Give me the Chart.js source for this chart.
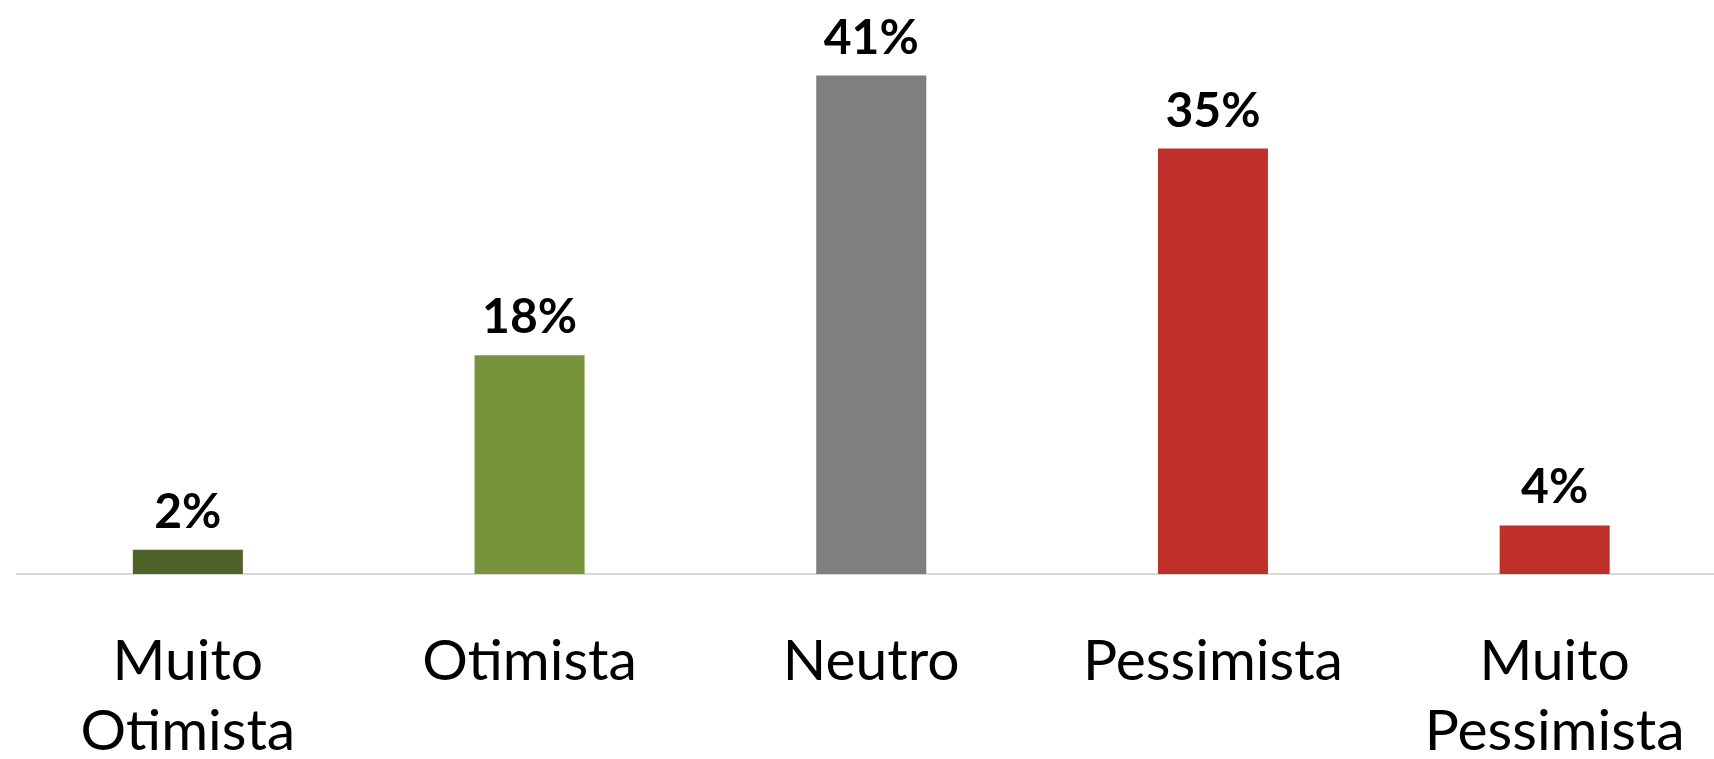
<!DOCTYPE html>
<html>
<head>
<meta charset="utf-8">
<script src="https://cdn.jsdelivr.net/npm/chart.js@4"></script>
<style>
  html, body { margin: 0; padding: 0; background: #fff; overflow: hidden; }
  #wrap { width: 1730px; height: 759px; }
</style>
</head>
<body>
<div id="wrap"><canvas id="chart"></canvas></div>
<script>
const categories = [['Muito', 'Otimista'], 'Otimista', 'Neutro', 'Pessimista', ['Muito', 'Pessimista']];
const values = [2, 18, 41, 35, 4];
const barColors = ['#4F6228', '#77933C', '#7F7F7F', '#C0302A', '#C0302A'];

// draw the percentage above each bar
const valueLabels = {
    id: 'valueLabels',
    afterDatasetsDraw(chart) {
        const ctx = chart.ctx;
        const meta = chart.getDatasetMeta(0);
        ctx.save();
        ctx.font = 'bold 48px Lato, "Open Sans", sans-serif';
        ctx.fillStyle = '#000';
        ctx.textAlign = 'center';
        ctx.textBaseline = 'alphabetic';
        meta.data.forEach((bar, i) => {
            ctx.fillText(values[i] + '%', bar.x, bar.y - 22);
        });
        ctx.restore();
    }
};

new Chart(document.getElementById('chart'), {
    type: 'bar',
    data: {
        labels: categories,
        datasets: [{
            data: values,
            backgroundColor: barColors,
            barPercentage: 0.322,
            categoryPercentage: 1
        }]
    },
    options: {
        responsive: true,
        maintainAspectRatio: false,
        animation: false,
        layout: { padding: { left: 17, right: 4, top: 27, bottom: 0 } },
        plugins: { legend: { display: false }, tooltip: { enabled: false } },
        scales: {
            x: {
                grid: { display: false },
                border: { display: true, color: '#D9D9D9', width: 2 },
                ticks: {
                    color: '#000',
                    padding: 45,
                    maxRotation: 0,
                    font: { family: 'Lato, "Open Sans", sans-serif', size: 57, lineHeight: 1.22 }
                },
                // baseline sits at ~574px, labels fill the rest
                afterFit(scale) { scale.height = 185; }
            },
            y: { display: false, min: 0, max: 45 }
        }
    },
    plugins: [valueLabels]
});
</script>
</body>
</html>
